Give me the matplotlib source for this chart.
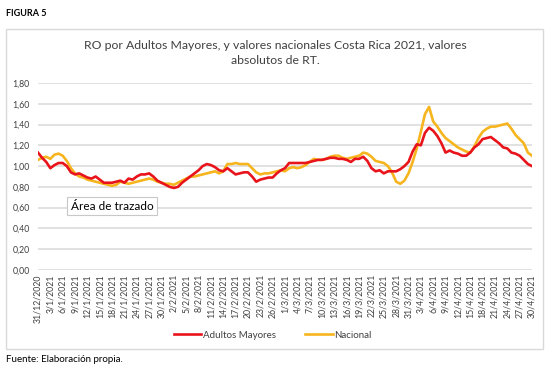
import matplotlib
matplotlib.use('Agg')
import matplotlib.pyplot as plt
import pandas as pd
from matplotlib.patches import Rectangle
from matplotlib.ticker import FuncFormatter

plt.rcParams['font.family'] = ['Lato', 'DejaVu Sans']

# valores diarios 31/12/2020 - 30/4/2021
adultos_mayores = [
    1.13, 1.08, 1.04, 0.98, 1.01, 1.03, 1.03, 1.00, 0.94, 0.92,
    0.93, 0.91, 0.89, 0.88, 0.90, 0.87, 0.84, 0.84, 0.84, 0.85,
    0.86, 0.84, 0.88, 0.87, 0.90, 0.92, 0.92, 0.93, 0.90, 0.86,
    0.84, 0.82, 0.80, 0.79, 0.80, 0.84, 0.87, 0.90, 0.93, 0.96,
    1.00, 1.02, 1.01, 0.99, 0.96, 0.95, 0.98, 0.95, 0.92, 0.93,
    0.94, 0.94, 0.90, 0.85, 0.87, 0.88, 0.89, 0.89, 0.93, 0.96,
    0.98, 1.03, 1.03, 1.03, 1.03, 1.03, 1.04, 1.05, 1.06, 1.06,
    1.07, 1.08, 1.08, 1.07, 1.07, 1.06, 1.04, 1.07, 1.07, 1.09,
    1.05, 0.98, 0.95, 0.96, 0.93, 0.95, 0.95, 0.95, 0.97, 1.00,
    1.04, 1.14, 1.21, 1.20, 1.32, 1.37, 1.34, 1.29, 1.22, 1.13,
    1.15, 1.13, 1.12, 1.10, 1.10, 1.13, 1.18, 1.21, 1.26, 1.27,
    1.28, 1.25, 1.22, 1.18, 1.17, 1.13, 1.12, 1.10, 1.06, 1.02,
    1.00,
]
nacional = [
    1.06, 1.08, 1.09, 1.07, 1.11, 1.12, 1.10, 1.05, 0.98, 0.93,
    0.90, 0.89, 0.87, 0.86, 0.85, 0.84, 0.83, 0.82, 0.81, 0.82,
    0.85, 0.84, 0.83, 0.84, 0.85, 0.86, 0.87, 0.88, 0.87, 0.85,
    0.84, 0.83, 0.83, 0.82, 0.84, 0.86, 0.88, 0.90, 0.90, 0.91,
    0.92, 0.93, 0.94, 0.95, 0.93, 0.95, 1.02, 1.02, 1.03, 1.02,
    1.02, 1.02, 0.98, 0.94, 0.92, 0.93, 0.93, 0.94, 0.95, 0.96,
    0.95, 0.98, 0.99, 0.98, 0.99, 1.01, 1.04, 1.07, 1.06, 1.06,
    1.07, 1.09, 1.10, 1.10, 1.08, 1.07, 1.08, 1.09, 1.10, 1.13,
    1.12, 1.09, 1.05, 1.04, 1.03, 1.00, 0.94, 0.85, 0.83, 0.86,
    0.93, 1.04, 1.17, 1.33, 1.50, 1.57, 1.43, 1.38, 1.32, 1.27,
    1.24, 1.21, 1.18, 1.16, 1.14, 1.13, 1.19, 1.27, 1.33, 1.36,
    1.38, 1.38, 1.39, 1.40, 1.41, 1.36, 1.30, 1.26, 1.22, 1.13,
    1.10,
]
fechas = pd.date_range('2020-12-31', '2021-04-30', freq='D')
etiquetas = [f"{f.day}/{f.month}/{f.year}" for f in fechas]

fig = plt.figure(figsize=(5.54, 3.92), dpi=100)
W, H = 554, 392

# marco del gráfico
fig.patches.append(Rectangle((6 / W, 1 - 349 / H), 537 / W, 320 / H,
                             transform=fig.transFigure, facecolor='none',
                             edgecolor='#D9D9D9', linewidth=1.0, zorder=-1))

ax = fig.add_axes([38 / W, 122 / H, 494 / W, 187 / H])
ax.set_facecolor('none')
x = list(range(len(fechas)))
ax.plot(x, adultos_mayores, color='#E8131B', linewidth=1.9, label='Adultos Mayores', zorder=3)
ax.plot(x, nacional, color='#F6B51E', linewidth=1.9, label='Nacional', zorder=2)

ax.set_xlim(0, len(fechas) - 1)
ax.set_ylim(0, 1.8)
ax.set_yticks([i * 0.2 for i in range(10)])
ax.yaxis.set_major_formatter(FuncFormatter(lambda v, p: f"{v:.2f}".replace('.', ',')))
ax.set_xticks(x[::3])
ax.set_xticklabels(etiquetas[::3], rotation=90, fontsize=6.3, color='#404040')
ax.tick_params(axis='y', labelsize=6.3, labelcolor='#404040', length=0, pad=6)
ax.tick_params(axis='x', length=0, pad=3)
ax.grid(axis='y', color='#D9D9D9', linewidth=1.1)
ax.set_axisbelow(True)
for s in ax.spines.values():
    s.set_visible(False)

fig.legend(loc='center', bbox_to_anchor=(273 / W, 1 - 335 / H), ncol=2, frameon=False,
           fontsize=7, handlelength=2.8, handletextpad=0.2, columnspacing=3.0,
           labelcolor='#404040')

fig.text(275 / W, 1 - 53 / H,
         'RO por Adultos Mayores, y valores nacionales Costa Rica 2021, valores\nabsolutos de RT.',
         ha='center', va='center', fontsize=8.8, color='#404040', linespacing=1.35)
fig.text(6 / W, 1 - 14 / H, 'FIGURA 5', fontsize=6.5, fontweight='bold', va='center')
fig.text(6 / W, 1 - 359 / H, 'Fuente: Elaboración propia.', fontsize=7, va='center')
fig.text(112 / W, 1 - 206 / H, 'Área de trazado', fontsize=8.5, ha='center', va='center',
         bbox=dict(boxstyle='square,pad=0.3', facecolor='white', edgecolor='#C8C8C8', linewidth=0.8))

fig.savefig('out.png', dpi=100)
